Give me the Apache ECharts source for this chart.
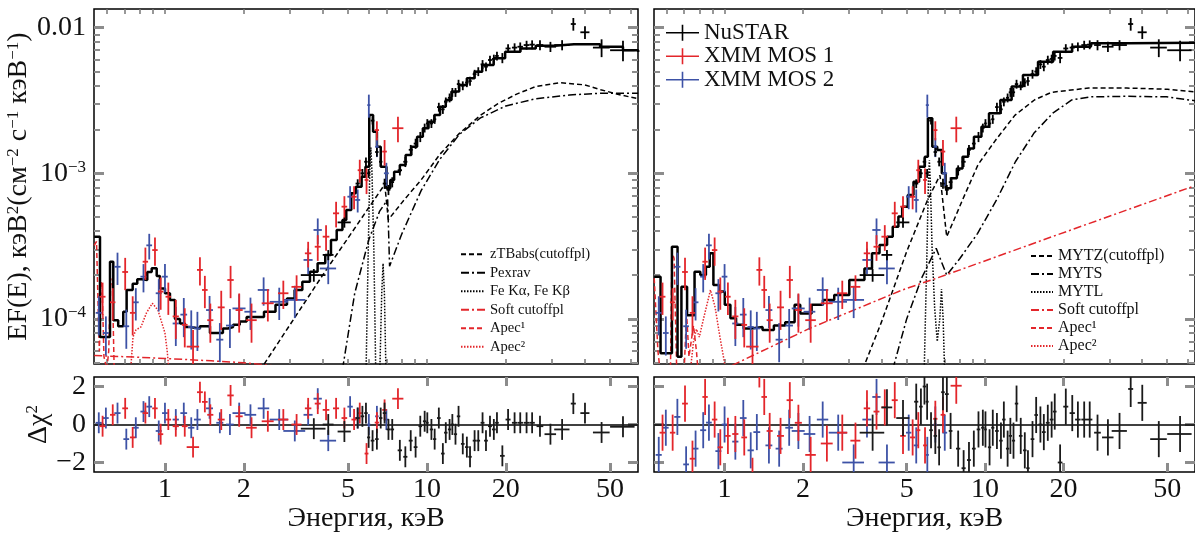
<!DOCTYPE html>
<html>
<head>
<meta charset="utf-8">
<script src="https://cdn.jsdelivr.net/npm/echarts@6/dist/echarts.min.js"></script>
<style>
html, body { margin: 0; background: #fff; }
#chart { width: 1195px; height: 534px; }
</style>
</head>
<body>
<div id="chart"></div>
<script>
// ---- NuSTAR (keV, half width, flux, relative error, residuals left/right)
var nuE = [3.7, 4.2, 4.84, 5.44, 5.67, 5.85, 5.99, 6.2, 6.44, 6.66, 6.89, 7.13, 7.37, 7.88, 8.27, 8.67, 9.05, 9.43, 9.8, 10.03, 10.4, 10.7, 11.1, 11.5, 11.8, 12.2, 12.5, 12.85, 13.2, 13.7, 14.2, 14.6, 15.2, 15.7, 16.3, 16.8, 17.4, 18.0, 18.5, 19.4, 20.4, 21.6, 22.7, 24.0, 25.2, 27.0, 29.6, 32.8, 36.2, 40.1, 46.4, 56.0];
var nuDE = [0.4, 0.2, 0.28, 0.1, 0.09, 0.09, 0.08, 0.1, 0.1, 0.1, 0.11, 0.12, 0.12, 0.15, 0.15, 0.15, 0.15, 0.15, 0.15, 0.12, 0.15, 0.15, 0.18, 0.18, 0.18, 0.18, 0.18, 0.18, 0.2, 0.22, 0.22, 0.22, 0.25, 0.25, 0.28, 0.28, 0.3, 0.3, 0.3, 0.4, 0.45, 0.5, 0.55, 0.6, 0.6, 0.8, 1.5, 2.2, 0.8, 1.6, 3.4, 6.0];
var nuF = [2.0e-4, 2.75e-4, 4.6e-4, 8.5e-4, 1.0e-3, 1.2e-3, 1.0e-3, 2.3e-3, 1.4e-3, 1.2e-3, 8.5e-4, 7.7e-4, 8.7e-4, 1.05e-3, 1.2e-3, 1.45e-3, 1.6e-3, 1.78e-3, 2.05e-3, 2.2e-3, 2.2e-3, 2.35e-3, 2.85e-3, 2.75e-3, 3.1e-3, 3.3e-3, 3.6e-3, 3.6e-3, 4.1e-3, 4.0e-3, 4.2e-3, 4.3e-3, 4.8e-3, 5.0e-3, 5.6e-3, 5.4e-3, 6.0e-3, 6.1e-3, 6.4e-3, 6.2e-3, 7.2e-3, 7.3e-3, 7.4e-3, 7.6e-3, 7.65e-3, 7.6e-3, 7.4e-3, 7.6e-3, 1.06e-2, 9.3e-3, 7.3e-3, 7.0e-3];
var nuDF = [0.1, 0.08, 0.08, 0.07, 0.07, 0.07, 0.07, 0.06, 0.07, 0.07, 0.08, 0.08, 0.08, 0.08, 0.08, 0.08, 0.08, 0.08, 0.07, 0.07, 0.07, 0.07, 0.07, 0.07, 0.07, 0.07, 0.07, 0.07, 0.07, 0.07, 0.07, 0.07, 0.07, 0.07, 0.07, 0.07, 0.07, 0.07, 0.07, 0.08, 0.07, 0.07, 0.07, 0.07, 0.07, 0.08, 0.08, 0.08, 0.1, 0.1, 0.14, 0.16];
var nuRL = [-0.22, 0.0, -0.37, 0.34, 0.43, 0.6, -0.68, -0.85, -0.77, 0.34, 0.6, -0.26, -0.26, -1.36, -1.7, -0.85, -1.19, -0.09, 0.17, 0.09, -0.26, -0.77, 0.34, -1.53, -0.43, -0.26, 0, -0.51, 0.43, -1.02, -1.19, -1.7, -0.85, -0.85, 0.09, -0.85, -0.09, -0.26, 0.09, -1.65, 0.26, 0.09, 0.09, 0.09, 0.09, -0.09, -0.51, -0.26, 1.1, 0.6, -0.42, -0.12];
var nuRR = [-0.43, 0.9, 0.34, 1.2, 0.94, 2.0, 1.2, -0.3, -0.6, -1.2, 1.7, 1.6, -0.34, -1.27, -2.3, -1.87, -1.27, -0.26, -0.17, -0.26, -1.2, -0.17, -0.34, -0.85, 0.26, -1.27, -0.6, -0.85, 1.1, -0.6, -1.36, -2.3, -0.77, 0.5, 0.0, -0.4, 0.09, 0.26, 0.68, -2.0, 0.94, 0.6, 0.26, 0.26, 0.26, -0.43, -0.68, -0.34, 1.87, 1.14, -0.77, -0.5];

// ---- XMM MOS 1
var m1E = [0.578, 0.632, 0.705, 0.753, 0.842, 0.916, 0.963, 1.03, 1.10, 1.19, 1.28, 1.36, 1.42, 1.49, 1.64, 1.78, 1.92, 2.14, 2.47, 2.83, 3.18, 3.52, 3.83, 4.12, 4.50, 4.84, 5.27, 5.54, 5.88, 6.44, 6.89, 7.75];
var m1DE = [0.015, 0.015, 0.018, 0.018, 0.02, 0.022, 0.022, 0.025, 0.03, 0.03, 0.07, 0.035, 0.035, 0.04, 0.05, 0.05, 0.06, 0.1, 0.13, 0.13, 0.14, 0.1, 0.1, 0.12, 0.12, 0.12, 0.12, 0.1, 0.1, 0.12, 0.14, 0.38];
var m1F = [1.42e-4, 1.3e-4, 2.1e-4, 1.1e-4, 2.47e-4, 2.97e-4, 1.54e-4, 1.42e-4, 1.04e-4, 9.1e-5, 6.45e-5, 2.17e-4, 1.58e-4, 9.8e-5, 1.2e-4, 1.85e-4, 1.15e-4, 9.8e-5, 1.28e-4, 1.5e-4, 1.66e-4, 2.82e-4, 3.13e-4, 3.67e-4, 5.31e-4, 5.9e-4, 6.9e-4, 1.05e-3, 9.0e-4, 1.98e-3, 1.41e-3, 2.04e-3];
var m1DF = [0.25, 0.25, 0.25, 0.3, 0.25, 0.22, 0.25, 0.25, 0.3, 0.3, 0.3, 0.22, 0.25, 0.3, 0.3, 0.25, 0.3, 0.3, 0.25, 0.22, 0.2, 0.2, 0.2, 0.2, 0.2, 0.18, 0.18, 0.18, 0.2, 0.15, 0.2, 0.2];
var m1RL = [-0.09, 0.51, 0.85, -0.68, 0.6, 0.85, -0.51, 0.26, -0.09, -0.09, -1.19, 1.7, 1.19, 0.51, 0.26, 1.53, 0.43, -0.17, 0.17, 0.26, 0, 0.85, 1.1, 0.77, 0.85, 0.34, 0.26, 0.6, -1.53, 0.1, 0.77, 1.36];
var m1RR = [-0.43, -0.43, 1.1, -1.8, 1.45, 0.26, -1.2, -0.6, -0.5, -0.68, -2.7, 2.9, 1.45, -0.34, -0.6, 1.28, 0.09, -1.6, -1.0, -0.43, -0.85, 0.85, 0.68, 0.9, 1.28, -0.6, -0.68, -0.3, -1.1, 0.3, 0.51, 2.04];

// ---- XMM MOS 2
var m2E = [0.559, 0.595, 0.659, 0.712, 0.774, 0.828, 0.871, 0.947, 1.0, 1.10, 1.18, 1.26, 1.33, 1.48, 1.62, 1.77, 1.92, 2.12, 2.38, 2.73, 3.13, 3.52, 3.83, 4.2, 5.09, 5.44, 6.0, 6.44, 7.0];
var m2DE = [0.015, 0.015, 0.018, 0.018, 0.02, 0.022, 0.022, 0.025, 0.025, 0.03, 0.035, 0.035, 0.04, 0.045, 0.05, 0.06, 0.11, 0.11, 0.12, 0.22, 0.3, 0.14, 0.14, 0.3, 0.12, 0.12, 0.08, 0.1, 0.15];
var m2F = [1.1e-4, 8.0e-5, 2.28e-4, 8.9e-5, 1.3e-4, 1.95e-4, 3.2e-4, 1.5e-4, 1.95e-4, 9.3e-5, 1.07e-4, 8.8e-5, 8.6e-5, 1.15e-4, 7.2e-5, 9.0e-5, 1.18e-4, 1.12e-4, 1.58e-4, 1.31e-4, 1.35e-4, 2.54e-4, 4.08e-4, 2.22e-4, 6.91e-4, 6.56e-4, 2.94e-3, 1.52e-3, 1.0e-3];
var m2DF = [0.3, 0.3, 0.25, 0.3, 0.25, 0.22, 0.2, 0.25, 0.22, 0.3, 0.3, 0.3, 0.3, 0.25, 0.3, 0.3, 0.25, 0.25, 0.22, 0.25, 0.25, 0.2, 0.2, 0.22, 0.18, 0.18, 0.18, 0.15, 0.18];
var m2RL = [0.09, 0.34, 0.6, -0.77, -0.17, 0.68, 0.94, -0.34, 0.6, 0.26, 0.6, -0.17, 0.26, 0.85, 0.09, 0, 0.6, 0.51, 0.85, 0.26, -0.34, 0.51, 1.36, -0.85, 0.94, 0.34, 0, 0.43, 0.26];
var m2RR = [-1.6, -0.17, 0.4, -2.1, -1.27, -0.3, 0.1, -1.4, 0, -0.9, 0.34, -1.36, -0.4, -1.1, -1.27, -0.17, -0.34, -0.5, 0.26, -0.43, -2.0, 0.26, 1.45, -2.0, -0.43, -1.1, -1.6, 0, -0.43];

var resErrL = 0.55, resErrR = 0.95;

// ---- total model (bin start energy, value), left and right
var mLE = [0.537, 0.565, 0.617, 0.635, 0.663, 0.693, 0.714, 0.753, 0.784, 0.815, 0.856, 0.89, 0.93, 0.957, 1.0, 1.045, 1.092, 1.141, 1.192, 1.246, 1.36, 1.485, 1.664, 1.74, 1.82, 1.93, 2.05, 2.388, 2.642, 2.922, 3.125, 3.344, 3.576, 3.825, 4.091, 4.302, 4.524, 4.758, 4.921, 5.142, 5.355, 5.631, 5.824, 6.023, 6.229, 6.442, 6.662, 7.006, 7.246, 7.494, 7.881, 8.291, 8.72, 9.171, 9.645, 10.14, 10.67, 11.22, 11.8, 12.41, 13.28, 14.2, 15.19, 16.25, 17.97, 19.88, 22.74, 26.02, 30.77, 36.4, 45.8, 56, 64];
var mLF = [3.67e-4, 7.5e-5, 2.47e-4, 9.8e-5, 8.9e-5, 1.12e-4, 1.58e-4, 1.74e-4, 1.87e-4, 1.85e-4, 2.1e-4, 2.23e-4, 1.97e-4, 1.62e-4, 1.5e-4, 1.35e-4, 1.0e-4, 9.3e-5, 8.8e-5, 8.6e-5, 8.9e-5, 8.0e-5, 8.6e-5, 8.8e-5, 9.1e-5, 9.6e-5, 1.03e-4, 1.12e-4, 1.25e-4, 1.38e-4, 1.58e-4, 1.80e-4, 2.11e-4, 2.41e-4, 2.75e-4, 3.48e-4, 4.08e-4, 4.78e-4, 5.6e-4, 7.28e-4, 8.09e-4, 9.48e-4, 1.11e-3, 2.51e-3, 1.93e-3, 1.52e-3, 1.11e-3, 7.88e-4, 8.99e-4, 1.026e-3, 1.14e-3, 1.335e-3, 1.52e-3, 1.785e-3, 2.04e-3, 2.26e-3, 2.51e-3, 2.87e-3, 3.19e-3, 3.64e-3, 4.04e-3, 4.49e-3, 4.99e-3, 5.54e-3, 6.16e-3, 6.84e-3, 7.21e-3, 7.52e-3, 7.69e-3, 7.7e-3, 7.4e-3, 7.0e-3, 6.8e-3];
var mRE = [0.537, 0.568, 0.628, 0.66, 0.683, 0.718, 0.767, 0.807, 0.848, 0.877, 0.906, 0.953, 1.002, 1.053, 1.107, 1.184, 1.266, 1.399, 1.546, 1.709, 1.857, 1.952, 2.158, 2.385, 2.636, 3.011, 3.442, 3.68, 3.933, 4.205, 4.42, 4.647, 4.805, 5.05, 5.31, 5.58, 5.87, 6.03, 6.27, 6.55, 6.82, 7.05, 7.41, 7.79, 8.19, 8.61, 9.06, 9.68, 10.35, 11.44, 12.64, 13.97, 15.96, 18.24, 21.56, 25.47, 35.54, 64];
var mRF = [1.95e-4, 5.8e-5, 3.13e-4, 5.5e-5, 1.66e-4, 1.06e-4, 2.11e-4, 2.0e-4, 2.28e-4, 2.82e-4, 1.71e-4, 1.54e-4, 1.25e-4, 1.01e-4, 9.1e-5, 8.6e-5, 8.8e-5, 8.4e-5, 9.0e-5, 9.5e-5, 1.25e-4, 1.09e-4, 1.25e-4, 1.35e-4, 1.46e-4, 1.85e-4, 2.22e-4, 2.82e-4, 3.22e-4, 3.67e-4, 4.3e-4, 5.04e-4, 5.9e-4, 7.1e-4, 8.76e-4, 1.11e-3, 1.3e-3, 2.385e-3, 1.52e-3, 1.445e-3, 1.0e-3, 7.88e-4, 9.23e-4, 1.08e-3, 1.3e-3, 1.48e-3, 1.785e-3, 2.09e-3, 2.58e-3, 3.19e-3, 3.94e-3, 4.73e-3, 5.84e-3, 6.84e-3, 7.41e-3, 7.81e-3, 7.89e-3, 7.89e-3];

// ---- model components, left panel
var ztbE = [2.3, 4.0, 6.9, 7.12, 8.2, 9.5, 11.2, 13.3, 16.0, 18.6, 22.0, 26.0, 32.0, 40.0, 46.0, 55.0, 64.0];
var ztbF = [4.4e-5, 2.0e-4, 8.4e-4, 4.8e-4, 6.6e-4, 9.0e-4, 1.35e-3, 1.88e-3, 2.5e-3, 3.0e-3, 3.5e-3, 3.94e-3, 4.19e-3, 4.05e-3, 3.75e-3, 3.45e-3, 3.25e-3];
var pexE = [4.76, 5.3, 6.0, 6.6, 7.08, 7.2, 8.0, 9.5, 11.2, 13.3, 16.0, 20.0, 26.0, 35.0, 46.0, 64.0];
var pexF = [4.5e-5, 1.5e-4, 3.5e-4, 5.5e-4, 6.6e-4, 2.3e-4, 3.8e-4, 7.6e-4, 1.25e-3, 1.85e-3, 2.4e-3, 2.9e-3, 3.25e-3, 3.45e-3, 3.55e-3, 3.55e-3];
var feE = [5.85, 5.97, 6.06, 6.11, 6.17, 6.27, 6.38, 6.6, 6.72, 6.8, 6.88, 6.98];
var feF = [4.0e-5, 3.0e-4, 1.2e-3, 1.5e-3, 1.0e-3, 3.0e-4, 4.0e-5, 4.0e-5, 1.5e-4, 2.4e-4, 1.5e-4, 4.0e-5];
var softLE = [0.537, 0.8, 1.0, 1.5, 2.0, 2.5, 3.0];
var softLF = [5.6e-5, 5.45e-5, 5.35e-5, 5.15e-5, 5.0e-5, 4.8e-5, 4.6e-5];
var apec1LE = [0.537, 0.548, 0.556, 0.562, 0.57, 0.576, 0.585, 0.6, 0.61, 0.62, 0.63, 0.64];
var apec1LF = [3.2e-4, 3.4e-4, 1.2e-4, 6e-5, 1.8e-4, 1.6e-4, 5.5e-5, 4.5e-5, 6e-5, 1.9e-4, 1.7e-4, 4.5e-5];
var apec2LE = [0.74, 0.755, 0.775, 0.81, 0.85, 0.895, 0.94, 0.98, 1.0, 1.02, 1.035];
var apec2LF = [4.5e-5, 7.5e-5, 8.4e-5, 8.8e-5, 1.1e-4, 1.28e-4, 1.15e-4, 9.0e-5, 8.0e-5, 6.0e-5, 4.5e-5];

// ---- model components, right panel
var mytzE = [3.39, 4.0, 5.0, 6.0, 6.71, 7.12, 7.6, 8.2, 9.4, 11.0, 13.0, 15.5, 18.0, 25.0, 35.0, 50.0, 64.0];
var mytzF = [4.5e-5, 9.5e-5, 2.9e-4, 6.5e-4, 9.7e-4, 3.67e-4, 4.8e-4, 6.6e-4, 1.15e-3, 1.7e-3, 2.5e-3, 3.2e-3, 3.6e-3, 3.85e-3, 3.85e-3, 3.78e-3, 3.62e-3];
var mytsE = [4.42, 5.0, 5.7, 6.49, 7.12, 8.0, 9.36, 11.06, 13.07, 15.44, 18.24, 21.5, 25.5, 35.5, 49.6, 64.0];
var mytsF = [4.5e-5, 1.0e-4, 1.9e-4, 3.05e-4, 2.0e-4, 2.6e-4, 3.87e-4, 6.56e-4, 1.2e-3, 1.9e-3, 2.6e-3, 3.19e-3, 3.35e-3, 3.38e-3, 3.35e-3, 3.15e-3];
var mytlE = [5.83, 5.97, 6.06, 6.11, 6.17, 6.26, 6.4, 6.55, 6.7, 6.8, 6.9, 7.0];
var mytlF = [4.0e-5, 2.5e-4, 9e-4, 1.23e-3, 8e-4, 3e-4, 1.2e-4, 7e-5, 1.0e-4, 1.6e-4, 1.0e-4, 4.0e-5];
var softRE = [1.07, 2.12, 4.81, 7.05, 18.24, 62.3];
var softRF = [4.8e-5, 8.6e-5, 1.58e-4, 2.0e-4, 3.69e-4, 8.09e-4];
var apec1RE = [0.537, 0.545, 0.555, 0.565, 0.62, 0.628, 0.64, 0.655, 0.7, 0.715, 0.73, 0.76, 0.78, 0.79];
var apec1RF = [1.9e-4, 1.9e-4, 6e-5, 4.5e-5, 4.5e-5, 2.9e-4, 2.6e-4, 4.5e-5, 4.5e-5, 1.1e-4, 5.5e-5, 9e-5, 6e-5, 4.5e-5];
var apec2RE = [0.74, 0.76, 0.78, 0.80, 0.83, 0.883, 0.92, 0.96, 0.99, 1.01];
var apec2RF = [4.5e-5, 7e-5, 8.5e-5, 7.5e-5, 1.0e-4, 1.58e-4, 1.2e-4, 7.5e-5, 5.5e-5, 4.5e-5];

// ---- axes
var xLabelTicks = [1, 2, 5, 10, 20, 50];
var xMinorTicks = [0.6, 0.7, 0.8, 0.9, 1, 2, 3, 4, 5, 6, 7, 8, 9, 10, 20, 30, 40, 50, 60];
var yMajorTicks = [1e-4, 1e-3, 1e-2];
var yMinorTicks = [5e-5, 6e-5, 7e-5, 8e-5, 9e-5, 2e-4, 3e-4, 4e-4, 5e-4, 6e-4, 7e-4, 8e-4, 9e-4, 2e-3, 3e-3, 4e-3, 5e-3, 6e-3, 7e-3, 8e-3, 9e-3];
var rTicks = [-2, 0, 2];

var E_MIN = 0.536, E_MAX = 63.9, F_MIN = 4.9e-5, F_MAX = 0.01344, R_MIN = -2.5, R_MAX = 2.5;

var FONT = "'Liberation Serif', 'DejaVu Serif', serif";
var TXT = '#111', RED = '#e3262b', BLUE = '#3d52a6', TICK = '#8c8c8c';
var RICH = { s: { fontFamily: FONT, fontSize: 17, color: TXT, padding: [0, 0, 12, 0] } };
var lg = Math.log10;

function pairs(xs, ys) {
    return xs.map(function (x, i) { return [x, ys[i]]; });
}

function rows(E, dE, V, dV) {
    return E.map(function (e, i) {
        return [e, dE[i], V[i], Array.isArray(dV) ? dV[i] : dV];
    });
}

function crossItem(color, width, rel) {
    return function (params, api) {
        var x = api.value(0), dx = api.value(1), y = api.value(2), dy = api.value(3);
        var lo = rel ? y * (1 - dy) : y - dy;
        var hi = rel ? y * (1 + dy) : y + dy;
        var a = api.coord([x - dx, y]), b = api.coord([x + dx, y]);
        var c = api.coord([x, lo]), d = api.coord([x, hi]);
        var st = { stroke: color, lineWidth: width };
        return {
            type: 'group',
            children: [
                { type: 'line', shape: { x1: a[0], y1: a[1], x2: b[0], y2: b[1] }, style: st },
                { type: 'line', shape: { x1: c[0], y1: c[1], x2: d[0], y2: d[1] }, style: st }
            ]
        };
    };
}

function crossSeries(name, data, color, width, rel, xi, yi) {
    return {
        name: name, type: 'custom', xAxisIndex: xi, yAxisIndex: yi,
        data: data, encode: { x: 0, y: 2 }, clip: true, silent: true, z: 5,
        itemStyle: { color: color },
        renderItem: crossItem(color, width, rel)
    };
}

function compLine(name, xs, ys, color, dash, xi, yi) {
    return {
        name: name, type: 'line', xAxisIndex: xi, yAxisIndex: yi,
        data: pairs(xs, ys), symbol: 'none', clip: true, silent: true, z: 2,
        lineStyle: { color: color, width: 1.5, type: dash },
        itemStyle: { color: color }
    };
}

function tickAxis(o) {
    var ax = {
        type: 'value', gridIndex: o.grid, position: o.pos, min: o.min, max: o.max,
        axisLine: { show: false, onZero: false },
        splitLine: { show: false },
        axisTick: {
            show: true, inside: true, length: o.len, customValues: o.ticks,
            lineStyle: { color: o.color || TICK, width: o.width }
        },
        axisLabel: { show: false }
    };
    if (o.labels) {
        ax.axisLabel = {
            show: true, customValues: o.labels, formatter: o.fmt, margin: o.margin,
            fontFamily: FONT, fontSize: 28, color: TXT, rich: RICH
        };
    }
    if (o.name) {
        ax.name = o.name;
        ax.nameLocation = 'middle';
        ax.nameGap = o.nameGap;
        ax.nameRotate = o.nameRotate || 0;
        ax.nameTextStyle = { fontFamily: FONT, fontSize: 28, color: TXT, rich: RICH };
    }
    return ax;
}

var grids = [
    { left: 94, top: 9, width: 544, height: 355 },
    { left: 94, top: 377, width: 544, height: 98 },
    { left: 654, top: 9, width: 544, height: 355 },
    { left: 654, top: 377, width: 544, height: 98 }
].map(function (g) {
    g.show = true; g.borderColor = '#000'; g.borderWidth = 1.5; g.containLabel = false;
    return g;
});

var xAxes = [], yAxes = [], series = [];
function addX(o) { xAxes.push(o); return xAxes.length - 1; }
function addY(o) { yAxes.push(o); return yAxes.length - 1; }

var lx0 = lg(E_MIN), lx1 = lg(E_MAX), ly0 = lg(F_MIN), ly1 = lg(F_MAX);
var xMinorLog = xMinorTicks.map(lg), xLabelLog = xLabelTicks.map(lg);
var yMajorLog = yMajorTicks.map(lg), yMinorLog = yMinorTicks.map(lg);

function fmtE(v) { return String(Math.round(Math.pow(10, v))); }
function fmtF(v) {
    var p = Math.round(v);
    return p === -2 ? '0.01' : '10{s|\u2212' + (-p) + '}';
}
function fmtR(v) { return v < 0 ? '\u2212' + (-v) : String(v); }

var panels = [
    {
        gU: 0, gR: 1, labels: true, modelE: mLE, modelF: mLF,
        resid: [nuRL, m1RL, m2RL], err: resErrL,
        comps: [
            ['zTBabs(cutoffpl)', ztbE, ztbF, '#000', [5, 3]],
            ['Pexrav', pexE, pexF, '#000', [8, 3, 2, 3]],
            ['Fe K\u03b1, Fe K\u03b2', feE, feF, '#000', [1.5, 1.5]],
            ['Soft cutoffpl', softLE, softLF, RED, [8, 3, 2, 3]],
            ['Apec\u00b9', apec1LE, apec1LF, RED, [5, 3]],
            ['Apec\u00b2', apec2LE, apec2LF, RED, [1.5, 1.5]]
        ]
    },
    {
        gU: 2, gR: 3, labels: false, modelE: mRE, modelF: mRF,
        resid: [nuRR, m1RR, m2RR], err: resErrR,
        comps: [
            ['MYTZ(cutoffpl)', mytzE, mytzF, '#000', [5, 3]],
            ['MYTS', mytsE, mytsF, '#000', [8, 3, 2, 3]],
            ['MYTL', mytlE, mytlF, '#000', [1.5, 1.5]],
            ['Soft cutoffpl', softRE, softRF, RED, [8, 3, 2, 3]],
            ['Apec\u00b9', apec1RE, apec1RF, RED, [5, 3]],
            ['Apec\u00b2', apec2RE, apec2RF, RED, [1.5, 1.5]]
        ]
    }
];

panels.forEach(function (p) {
    // data axes
    var xU = addX({ type: 'log', gridIndex: p.gU, min: E_MIN, max: E_MAX, show: false });
    var yU = addY({ type: 'log', gridIndex: p.gU, min: F_MIN, max: F_MAX, show: false });
    var xR = addX({ type: 'log', gridIndex: p.gR, min: E_MIN, max: E_MAX, show: false });
    var yR = addY({ type: 'value', gridIndex: p.gR, min: R_MIN, max: R_MAX, show: false });

    // frame ticks, upper panel
    addX(tickAxis({ grid: p.gU, pos: 'top', min: lx0, max: lx1, ticks: xMinorLog, len: 5, width: 1.5, color: '#777' }));
    addX(tickAxis({ grid: p.gU, pos: 'bottom', min: lx0, max: lx1, ticks: xMinorLog, len: 5, width: 1.5, color: '#777' }));
    addY(tickAxis({
        grid: p.gU, pos: 'left', min: ly0, max: ly1, ticks: yMajorLog, len: 10, width: 3,
        labels: p.labels ? yMajorLog : null, fmt: fmtF, margin: 8,
        name: p.labels ? 'EF(E), \u043a\u044d\u0412{s|2}(\u0441\u043c{s|\u22122} \u0441{s|\u22121} \u043a\u044d\u0412{s|\u22121})' : null,
        nameGap: 56, nameRotate: 90
    }));
    addY(tickAxis({ grid: p.gU, pos: 'left', min: ly0, max: ly1, ticks: yMinorLog, len: 6, width: 2 }));
    addY(tickAxis({ grid: p.gU, pos: 'right', min: ly0, max: ly1, ticks: yMajorLog, len: 10, width: 3 }));
    addY(tickAxis({ grid: p.gU, pos: 'right', min: ly0, max: ly1, ticks: yMinorLog, len: 6, width: 2 }));

    // frame ticks, residual panel
    addX(tickAxis({ grid: p.gR, pos: 'top', min: lx0, max: lx1, ticks: xLabelLog, len: 9, width: 3 }));
    addX(tickAxis({
        grid: p.gR, pos: 'bottom', min: lx0, max: lx1, ticks: xLabelLog, len: 9, width: 3,
        labels: xLabelLog, fmt: fmtE, margin: 4,
        name: '\u042d\u043d\u0435\u0440\u0433\u0438\u044f, \u043a\u044d\u0412', nameGap: 33
    }));
    addY(tickAxis({
        grid: p.gR, pos: 'left', min: R_MIN, max: R_MAX, ticks: rTicks, len: 10, width: 3,
        labels: p.labels ? rTicks : null, fmt: fmtR, margin: 8,
        name: p.labels ? '\u0394\u03c7{s|2}' : null, nameGap: 38, nameRotate: 90
    }));
    addY(tickAxis({ grid: p.gR, pos: 'right', min: R_MIN, max: R_MAX, ticks: rTicks, len: 10, width: 3 }));

    // model components
    p.comps.forEach(function (c) {
        series.push(compLine(c[0], c[1], c[2], c[3], c[4], xU, yU));
    });

    // total model
    series.push({
        name: 'model', type: 'line', step: 'end', xAxisIndex: xU, yAxisIndex: yU,
        data: pairs(p.modelE, p.modelF), symbol: 'none', clip: true, silent: true, z: 3,
        lineStyle: { color: '#000', width: 2.5 }
    });

    // spectra
    series.push(crossSeries('XMM MOS 2', rows(m2E, m2DE, m2F, m2DF), BLUE, 1.8, true, xU, yU));
    series.push(crossSeries('XMM MOS 1', rows(m1E, m1DE, m1F, m1DF), RED, 1.8, true, xU, yU));
    series.push(crossSeries('NuSTAR', rows(nuE, nuDE, nuF, nuDF), '#000', 1.8, true, xU, yU));

    // residuals
    var blk = crossSeries('NuSTAR', rows(nuE, nuDE, p.resid[0], p.err), '#1a1a1a', 1.8, false, xR, yR);
    blk.markLine = {
        silent: true, symbol: 'none', label: { show: false },
        lineStyle: { color: '#000', width: 1.6, type: 'solid' },
        data: [{ yAxis: 0 }]
    };
    series.push(crossSeries('XMM MOS 2', rows(m2E, m2DE, p.resid[2], p.err), BLUE, 1.8, false, xR, yR));
    series.push(crossSeries('XMM MOS 1', rows(m1E, m1DE, p.resid[1], p.err), RED, 1.8, false, xR, yR));
    series.push(blk);
});

var CROSS = 'path://M0,7.2H33V8.8H0Z M15.7,0H17.3V16H15.7Z';
var legendText = { fontFamily: FONT, color: TXT };
var noSymbol = { opacity: 0 };

var chart = echarts.init(document.getElementById('chart'), null, { renderer: 'canvas' });
chart.setOption({
    animation: false,
    backgroundColor: '#fff',
    grid: grids,
    xAxis: xAxes,
    yAxis: yAxes,
    legend: [
        {
            data: [
                { name: 'NuSTAR', icon: CROSS },
                { name: 'XMM MOS 1', icon: CROSS },
                { name: 'XMM MOS 2', icon: CROSS }
            ],
            orient: 'vertical', left: 666, top: 21, padding: 0,
            itemWidth: 33, itemHeight: 16, itemGap: 0, selectedMode: false,
            textStyle: Object.assign({ fontSize: 23, lineHeight: 23.5 }, legendText)
        },
        {
            data: ['zTBabs(cutoffpl)', 'Pexrav', 'Fe K\u03b1, Fe K\u03b2', 'Soft cutoffpl', 'Apec\u00b9', 'Apec\u00b2'],
            orient: 'vertical', left: 460, top: 245, padding: 0,
            itemWidth: 24, itemHeight: 10, itemGap: 0, selectedMode: false,
            itemStyle: noSymbol,
            textStyle: Object.assign({ fontSize: 14.6, lineHeight: 18.5 }, legendText)
        },
        {
            data: ['MYTZ(cutoffpl)', 'MYTS', 'MYTL', 'Soft cutoffpl', 'Apec\u00b9', 'Apec\u00b2'],
            orient: 'vertical', left: 1030, top: 247, padding: 0,
            itemWidth: 22, itemHeight: 10, itemGap: 0, selectedMode: false,
            itemStyle: noSymbol,
            textStyle: Object.assign({ fontSize: 16, lineHeight: 18 }, legendText)
        }
    ],
    series: series
});
</script>
</body>
</html>
